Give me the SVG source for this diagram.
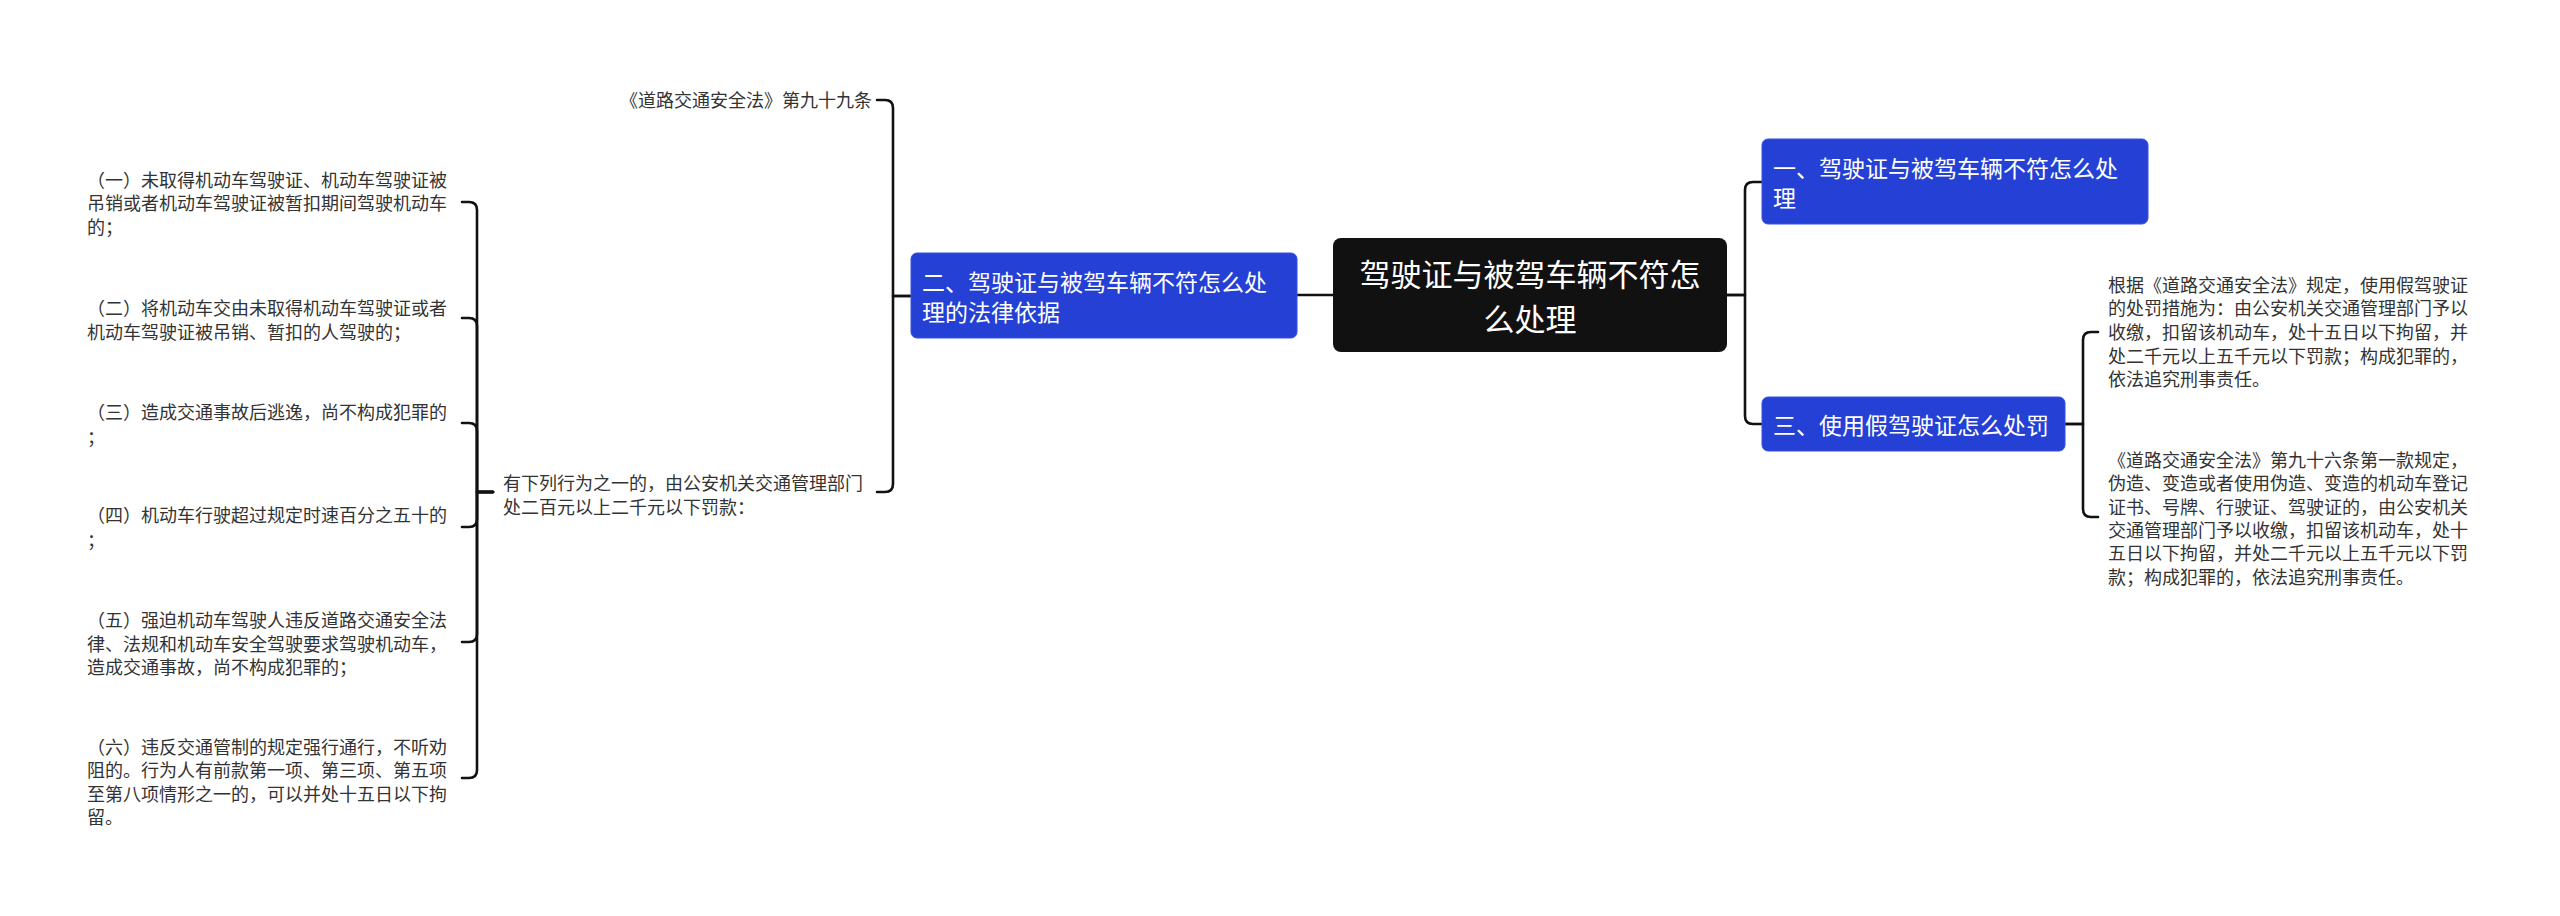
<svg xmlns="http://www.w3.org/2000/svg" width="2560" height="916" viewBox="0 0 2560 916">
<style>
.t{font-family:"Noto Sans CJK SC","Noto Sans",sans-serif;font-size:18px;fill:#333333}
.b{font-family:"Noto Sans CJK SC","Noto Sans",sans-serif;font-size:23px;fill:#ffffff}
.r{font-family:"Noto Sans CJK SC","Noto Sans",sans-serif;font-size:31px;fill:#ffffff}
.c{fill:none;stroke:#111111;stroke-width:2.6;stroke-linecap:round;stroke-linejoin:round}
.blue{fill:#2541D5;stroke:#3650E0;stroke-width:1}
</style>
<rect width="2560" height="916" fill="#ffffff"/>
<g id="connectors">
<path class="c" d="M1333 295 L1297 295"/>
<path class="c" d="M1727 295 L1745 295 L1745 190 Q1745 182 1753 182 L1762 182"/>
<path class="c" d="M1727 295 L1745 295 L1745 416 Q1745 424 1753 424 L1762 424"/>
<path class="c" d="M2065 424 L2083 424 L2083 340 Q2083 332 2091 332 L2098 332"/>
<path class="c" d="M2065 424 L2083 424 L2083 509 Q2083 517 2091 517 L2098 517"/>
<path class="c" d="M911 296 L893 296 L893 108 Q893 100 885 100 L877 100"/>
<path class="c" d="M911 296 L893 296 L893 484 Q893 492 885 492 L877 492"/>
<path class="c" d="M493 492 L477 492 L477 210 Q477 202 469 202 L462 202"/>
<path class="c" d="M493 492 L477 492 L477 326 Q477 318 469 318 L462 318"/>
<path class="c" d="M493 492 L477 492 L477 431 Q477 423 469 423 L462 423"/>
<path class="c" d="M493 492 L477 492 L477 519 Q477 527 469 527 L462 527"/>
<path class="c" d="M493 492 L477 492 L477 634 Q477 642 469 642 L462 642"/>
<path class="c" d="M493 492 L477 492 L477 770 Q477 778 469 778 L462 778"/>
</g>
<g id="root">
<rect x="1333" y="238" width="394" height="114" rx="8" fill="#111111"/>
<text class="r" x="1530" y="286" text-anchor="middle">驾驶证与被驾车辆不符怎</text>
<text class="r" x="1530" y="331" text-anchor="middle">么处理</text>
</g>
<g id="n1">
<rect class="blue" x="1762" y="139" width="386" height="85" rx="6"/>
<text class="b" x="1773" y="177">一、驾驶证与被驾车辆不符怎么处</text>
<text class="b" x="1773" y="207">理</text>
</g>
<g id="n3">
<rect class="blue" x="1762" y="397" width="303" height="54" rx="6"/>
<text class="b" x="1773" y="434">三、使用假驾驶证怎么处罚</text>
</g>
<g id="n2">
<rect class="blue" x="911" y="253" width="386" height="85" rx="6"/>
<text class="b" x="922" y="291">二、驾驶证与被驾车辆不符怎么处</text>
<text class="b" x="922" y="321">理的法律依据</text>
</g>
<g id="n3a">
<text class="t" x="2108" y="292">根据《道路交通安全法》规定，使用假驾驶证</text>
<text class="t" x="2108" y="315">的处罚措施为：由公安机关交通管理部门予以</text>
<text class="t" x="2108" y="339">收缴，扣留该机动车，处十五日以下拘留，并</text>
<text class="t" x="2108" y="363">处二千元以上五千元以下罚款；构成犯罪的，</text>
<text class="t" x="2108" y="386">依法追究刑事责任。</text>
</g>
<g id="n3b">
<text class="t" x="2108" y="467">《道路交通安全法》第九十六条第一款规定，</text>
<text class="t" x="2108" y="490">伪造、变造或者使用伪造、变造的机动车登记</text>
<text class="t" x="2108" y="514">证书、号牌、行驶证、驾驶证的，由公安机关</text>
<text class="t" x="2108" y="537">交通管理部门予以收缴，扣留该机动车，处十</text>
<text class="t" x="2108" y="560">五日以下拘留，并处二千元以上五千元以下罚</text>
<text class="t" x="2108" y="584">款；构成犯罪的，依法追究刑事责任。</text>
</g>
<g id="n2a">
<text class="t" x="620" y="107">《道路交通安全法》第九十九条</text>
</g>
<g id="n2b">
<text class="t" x="503" y="490">有下列行为之一的，由公安机关交通管理部门</text>
<text class="t" x="503" y="514">处二百元以上二千元以下罚款：</text>
</g>
<g id="item1">
<text class="t" x="87" y="187">（一）未取得机动车驾驶证、机动车驾驶证被</text>
<text class="t" x="87" y="210">吊销或者机动车驾驶证被暂扣期间驾驶机动车</text>
<text class="t" x="87" y="234">的；</text>
</g>
<g id="item2">
<text class="t" x="87" y="315">（二）将机动车交由未取得机动车驾驶证或者</text>
<text class="t" x="87" y="339">机动车驾驶证被吊销、暂扣的人驾驶的；</text>
</g>
<g id="item3">
<text class="t" x="87" y="419">（三）造成交通事故后逃逸，尚不构成犯罪的</text>
<text class="t" x="87" y="444">；</text>
</g>
<g id="item4">
<text class="t" x="87" y="522">（四）机动车行驶超过规定时速百分之五十的</text>
<text class="t" x="87" y="547">；</text>
</g>
<g id="item5">
<text class="t" x="87" y="627">（五）强迫机动车驾驶人违反道路交通安全法</text>
<text class="t" x="87" y="651">律、法规和机动车安全驾驶要求驾驶机动车，</text>
<text class="t" x="87" y="674">造成交通事故，尚不构成犯罪的；</text>
</g>
<g id="item6">
<text class="t" x="87" y="754">（六）违反交通管制的规定强行通行，不听劝</text>
<text class="t" x="87" y="777">阻的。行为人有前款第一项、第三项、第五项</text>
<text class="t" x="87" y="801">至第八项情形之一的，可以并处十五日以下拘</text>
<text class="t" x="87" y="824">留。</text>
</g>
</svg>
